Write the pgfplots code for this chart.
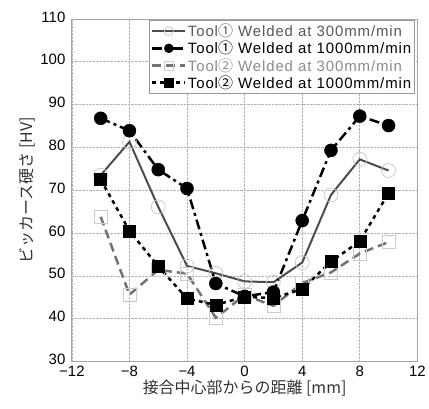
\documentclass[border=0pt]{standalone}
\usepackage{fontspec}
\setmainfont{Liberation Sans}
\newfontfamily\cjk{Noto Sans CJK JP}
\newfontfamily\legfont[LetterSpace=6]{Liberation Sans}
\usepackage{pgfplots}
\pgfplotsset{compat=1.18}
\begin{document}
\begin{tikzpicture}
\begin{axis}[
 width=346pt, height=343pt, scale only axis,
 xmin=-12, xmax=12, ymin=30, ymax=110,
 xtick={-12,-8,...,12}, xticklabels={−12,−8,−4,0,4,8,12},
 ytick={30,40,...,110},
 /pgf/number format/assume math mode=true,
 tick label style={font=\fontsize{15}{15}\selectfont},
 yticklabel style={xshift=-3pt, yshift=2pt},
 xticklabel style={yshift=-1pt},
 grid=major, grid style={densely dotted, gray!60, line width=0.6pt},
 axis line style={gray!70, line width=0.8pt},
 major tick length=0pt,
 xlabel={\cjk 接合中心部からの距離 [mm]},
 ylabel={\cjk ビッカース硬さ [HV]},
 xlabel style={yshift=3pt},
 ylabel style={yshift=-2pt},
 label style={font=\fontsize{16}{16}\selectfont, text=black!80},
 legend style={at={(1,1)}, anchor=north east, xshift=-2pt, yshift=-1pt,
   draw=gray!80, line width=1.2pt, font=\legfont\fontsize{15}{16}\selectfont,
   cells={anchor=west}, inner sep=2pt, row sep=0pt, nodes={inner sep=1.5pt}},
 legend image code/.code={\draw[#1] (0cm,0cm) -- (1.15cm,0cm); \draw[#1,solid,mark size=4.5pt] plot coordinates {(0.575cm,0cm)};},
]
\addplot[black!70, line width=2pt, mark=o, mark size=7pt, mark options={draw=gray!45, line width=0.7pt, solid}]
 coordinates {(-10,73.5) (-8,81.3) (-6,66.1) (-4,52.3) (-2,50.6) (0,48.7) (2,48.5) (4,53.1) (6,68.9) (8,77.2) (10,74.6)};
\addlegendentry{\textcolor{black!65}{Tool{\cjk ①} Welded at 300mm/min}}
\addplot[black, line width=2.5pt, dash pattern=on 10pt off 4pt on 3pt off 4pt, mark=*, mark size=6.5pt, mark options={solid, fill=black, line width=0.5pt}]
 coordinates {(-10,86.8) (-8,83.9) (-6,74.8) (-4,70.4) (-2,48.2) (0,45.2) (2,46.2) (4,62.9) (6,79.3) (8,87.3) (10,85.1)};
\addlegendentry{\textcolor{black}{Tool{\cjk ①} Welded at 1000mm/min}}
\addplot[black!55, line width=2.5pt, dash pattern=on 9pt off 5pt, mark=square, mark size=6.5pt, mark options={solid, draw=gray!40, line width=0.7pt}]
 coordinates {(-10,63.8) (-8,45.6) (-6,51.4) (-4,50.5) (-2,40.2) (0,45.5) (2,43.0) (4,48.3) (6,50.8) (8,55.2) (10,57.9)};
\addlegendentry{\textcolor{black!45}{Tool{\cjk ②} Welded at 300mm/min}}
\addplot[black, line width=2.5pt, dash pattern=on 4pt off 4pt, mark=square*, mark size=6pt, mark options={solid, fill=black, line width=0.5pt}]
 coordinates {(-10,72.5) (-8,60.5) (-6,52.2) (-4,44.7) (-2,43.2) (0,45.1) (2,44.8) (4,46.9) (6,53.3) (8,58.1) (10,69.3)};
\addlegendentry{\textcolor{black}{Tool{\cjk ②} Welded at 1000mm/min}}
\end{axis}
\path ([shift={(-72pt,-47pt)}]current axis.south west) rectangle ([shift={(11pt,19pt)}]current axis.north east);
\end{tikzpicture}
\end{document}
